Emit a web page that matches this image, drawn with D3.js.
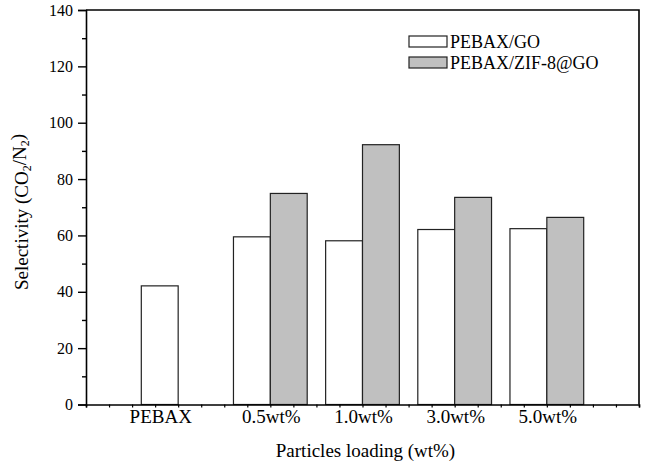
<!DOCTYPE html>
<html>
<head>
<meta charset="utf-8">
<script src="https://cdn.jsdelivr.net/npm/d3@7"></script>
<style>
  html, body { margin: 0; padding: 0; background: #fff; }
  svg { display: block; }
  text { font-family: "Liberation Serif", "Times New Roman", serif; fill: #000; }
</style>
</head>
<body>
<svg id="chart" width="645" height="464"></svg>
<script>
// Sample groups along the x axis
const categories = ["PEBAX", "0.5wt%", "1.0wt%", "3.0wt%", "5.0wt%"];
// CO2/N2 selectivity for each membrane series (null = not measured)
const pebaxGO     = [42.1, 59.5, 58.1, 62.1, 62.4];
const pebaxZifGO  = [null, 74.9, 92.2, 73.5, 66.4];
const seriesNames = ["PEBAX/GO", "PEBAX/ZIF-8@GO"];
const yTicks = [0, 20, 40, 60, 80, 100, 120, 140];

const fills = ["#ffffff", "#c0c0c0"];

const svg = d3.select("#chart");
const plotL = 86, plotR = 639, plotT = 10, plotB = 404.5;

// Categories sit at 1..5 on a 0..6 linear axis
const x = d3.scaleLinear().domain([0, 6]).range([plotL, plotR]);
const y = d3.scaleLinear().domain([0, 140]).range([plotB, plotT]);
const barW = x(0.4) - x(0);

const series = [pebaxGO, pebaxZifGO];

// Bars
series.forEach((vals, s) => {
  svg.append("g")
    .selectAll("rect")
    .data(vals.map((v, i) => ({ v, i })).filter(d => d.v != null))
    .join("rect")
      .attr("x", d => x(d.i + 1) + (s - 1) * barW)
      .attr("y", d => y(d.v))
      .attr("width", barW)
      .attr("height", d => y(0) - y(d.v))
      .attr("fill", fills[s])
      .attr("stroke", "#222")
      .attr("stroke-width", 1.2);
});

// Frame (top and right edges)
svg.append("path")
  .attr("d", `M${plotL},${plotT}H${plotR}V${plotB}`)
  .attr("fill", "none").attr("stroke", "#000").attr("stroke-width", 1.6);

// Y axis: major ticks with labels, minor ticks between
const yAxis = svg.append("g").attr("transform", `translate(${plotL},0)`)
  .call(d3.axisLeft(y).tickValues(yTicks).tickSize(8).tickPadding(5).tickFormat(d3.format("d")));
yAxis.select(".domain").attr("stroke-width", 1.6);
yAxis.selectAll(".tick line").attr("stroke-width", 1.4);
yAxis.selectAll("text").style("font-size", "16px").style("font-family", '"Liberation Serif", serif');
svg.append("g").attr("transform", `translate(${plotL},0)`)
  .call(d3.axisLeft(y).tickValues(d3.range(10, 140, 20)).tickSize(4).tickFormat(""))
  .call(g => g.select(".domain").remove())
  .selectAll(".tick line").attr("stroke-width", 1.4);

// X axis: small ticks, no numeric labels
const xAxis = svg.append("g").attr("transform", `translate(0,${plotB})`)
  .call(d3.axisBottom(x).tickValues(d3.range(0, 6.001, 0.25)).tickSize(3).tickFormat(""));
xAxis.select(".domain").attr("stroke-width", 1.6);
xAxis.selectAll(".tick line").attr("stroke-width", 1.2);

// Category labels, centred under the bars present in each group
svg.append("g").selectAll("text")
  .data(categories)
  .join("text")
    .attr("x", (c, i) => {
      const present = series.map((vals, s) => vals[i] != null ? s : null).filter(s => s != null);
      const l = x(i + 1) + (d3.min(present) - 1) * barW;
      const r = x(i + 1) + d3.max(present) * barW;
      return (l + r) / 2 + 1;
    })
    .attr("y", 423)
    .attr("text-anchor", "middle")
    .style("font-size", "19px")
    .text(d => d);

// Axis titles
svg.append("text")
  .attr("x", (plotL + plotR) / 2 + 3).attr("y", 457)
  .attr("text-anchor", "middle")
  .style("font-size", "19px")
  .text("Particles loading (wt%)");

const yt = svg.append("text")
  .attr("transform", "translate(28,212) rotate(-90)")
  .attr("text-anchor", "middle")
  .style("font-size", "19px");
yt.append("tspan").text("Selectivity (CO");
yt.append("tspan").attr("dy", "0.28em").style("font-size", "12px").text("2");
yt.append("tspan").attr("dy", "-0.28em").text("/N");
yt.append("tspan").attr("dy", "0.28em").style("font-size", "12px").text("2");
yt.append("tspan").attr("dy", "-0.28em").text(")");

// Legend
const legend = svg.append("g").attr("transform", "translate(409,36)");
seriesNames.forEach((name, s) => {
  const g = legend.append("g").attr("transform", `translate(0,${s * 21})`);
  g.append("rect").attr("width", 38).attr("height", 11)
    .attr("fill", fills[s]).attr("stroke", "#222").attr("stroke-width", 1.2);
  g.append("text").attr("x", 41).attr("y", 11.5)
    .style("font-size", "18px").text(name);
});
</script>
</body>
</html>
